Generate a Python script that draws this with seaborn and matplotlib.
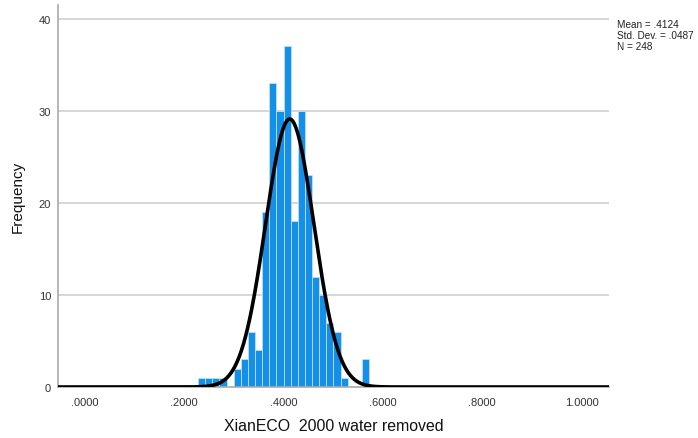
import numpy as np
import pandas as pd
import matplotlib
matplotlib.use("Agg")
import matplotlib.pyplot as plt
import seaborn as sns

# Histogram bins (left edge, width) and counts per bin
bin_start = 0.228
bin_width = 0.01433
counts = [1, 1, 1, 1, 0, 2, 3, 6, 4, 19, 33, 30, 37, 18, 30, 23, 12, 10, 7, 6, 1, 0, 0, 3]

# Summary statistics
mean_val = 0.4124
std_val = 0.0487
n_val = 248

x_ticks = [0.0, 0.2, 0.4, 0.6, 0.8, 1.0]
x_ticklabels = [".0000", ".2000", ".4000", ".6000", ".8000", "1.0000"]
y_ticks = [0, 10, 20, 30, 40]

edges = bin_start + bin_width * np.arange(len(counts) + 1)
centers = (edges[:-1] + edges[1:]) / 2
df = pd.DataFrame({"value": centers, "count": counts})

sns.set_theme(style="white")
plt.rcParams["font.family"] = ["Liberation Sans", "DejaVu Sans"]

W, H = 698, 439
fig = plt.figure(figsize=(W / 100, H / 100), dpi=100)
ax = fig.add_axes([58 / W, 1 - 388 / H, (609 - 58) / W, (388 - 6) / H])

sns.histplot(data=df, x="value", weights="count",
             binwidth=bin_width, binrange=(float(edges[0]), float(edges[-1])),
             ax=ax, color="#1490E8", alpha=1.0, edgecolor="#BFE0F8",
             linewidth=0.6, zorder=2)

# Fitted normal curve scaled to counts
xs = np.linspace(-0.054, 1.055, 800)
pdf = np.exp(-0.5 * ((xs - mean_val) / std_val) ** 2) / (std_val * np.sqrt(2 * np.pi))
sns.lineplot(x=xs, y=pdf * n_val * bin_width, ax=ax, color="black",
             linewidth=2.6, zorder=4)

ax.set_xlim(-0.054, 1.055)
ax.set_ylim(0, 41.5)
ax.set_xticks(x_ticks)
ax.set_xticklabels(x_ticklabels)
ax.set_yticks(y_ticks)
ax.tick_params(axis="both", length=0, labelsize=8, colors="#333333")
ax.tick_params(axis="x", pad=7)
ax.tick_params(axis="y", pad=5)

for y in y_ticks[1:]:
    ax.axhline(y, color="#D0D0D0", linewidth=1.2, zorder=1)

for side in ["top", "right"]:
    ax.spines[side].set_visible(False)
ax.spines["left"].set_color("#AAAAAA")
ax.spines["left"].set_linewidth(1.2)
ax.spines["bottom"].set_color("#AAAAAA")
ax.spines["bottom"].set_linewidth(1.2)

ax.set_xlabel("XianECO  2000 water removed", fontsize=11.4, color="#111111", labelpad=8)
ax.set_ylabel("Frequency", fontsize=11, color="#111111", labelpad=10)

stats_lines = [
    f"Mean = {mean_val:.4f}".replace("0.", "."),
    f"Std. Dev. = {std_val:.4f}".replace("0.", "."),
    f"N = {n_val}",
]
for i, line in enumerate(stats_lines):
    fig.text(617 / W, 1 - (24.5 + 11.2 * i) / H, line,
             fontsize=7.2, color="#222222", va="center", ha="left")

fig.savefig("out.png", dpi=100)
